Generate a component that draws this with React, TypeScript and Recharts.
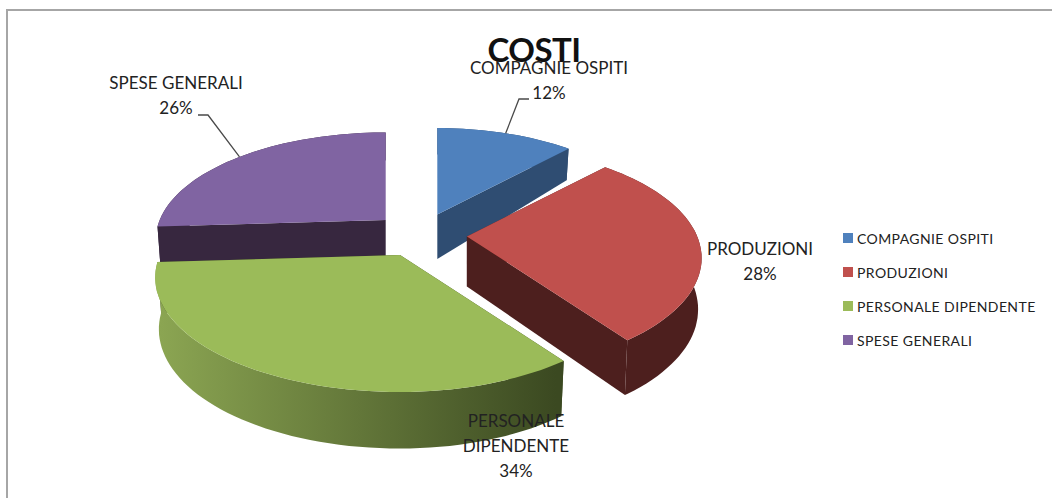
import { Legend, Pie, PieChart, Cell } from "recharts";

const CATEGORIES = ["COMPAGNIE OSPITI", "PRODUZIONI", "PERSONALE DIPENDENTE", "SPESE GENERALI"];
const VALUES = [12, 28, 34, 26];
const TOP_COLORS = ["#4f81bd", "#c0504d", "#9bbb59", "#8064a2"];
const CUT_COLORS = ["#2f4d72", "#4d1f1e", "#3c4a22", "#37273f"];
const RIM_FROM = ["#2f4d72", "#4d1f1e", "#8ba552", "#37273f"];
const RIM_TO = ["#2f4d72", "#4d1f1e", "#3b4921", "#37273f"];

const data = CATEGORIES.map((name, i) => ({ name, value: VALUES[i] }));

const FONT = "Lato, 'Open Sans', sans-serif";
const RADIUS = 230;
const TILT = 0.47; // y squash of the pie plane
const PERSPECTIVE = 0.193;
const EXPLODE = 47;
const BOTTOM_SHRINK = 0.985;
const LEFT_STRETCH = 1.025; // the original's camera sits a bit right of centre

// where each data label sits, [centre x, first baseline], and the leader elbow if any
const LABEL_LINES = [["COMPAGNIE OSPITI"], ["PRODUZIONI"], ["PERSONALE", "DIPENDENTE"], ["SPESE GENERALI"]];
const LABEL_AT = [
  [549, 74],
  [760, 255],
  [516, 427],
  [176, 89],
];
const LEADERS: (number[][] | null)[] = [
  [[519, 99], [529, 99]],
  null,
  null,
  [[208, 115], [198, 115]],
];

const rad = (d: number) => (d * Math.PI) / 180;

// theta: degrees clockwise from the top of the pie, mid: the slice's explode direction
function project(cx: number, cy: number, theta: number, r: number, mid: number, low = false) {
  const ox = EXPLODE * Math.sin(rad(mid));
  const oy = -EXPLODE * Math.cos(rad(mid));
  const lx = r * Math.sin(rad(theta)) * (Math.sin(rad(theta)) < 0 ? LEFT_STRETCH : 1);
  const ly = -r * Math.cos(rad(theta));
  const forward = (ly + (oy < 0 ? 1.6 * oy : 0.5 * oy)) / RADIUS;
  const s = 1 / (1 - PERSPECTIVE * forward);
  const k = low ? BOTTOM_SHRINK : 1;
  const depth = forward >= 0 ? 50 + 6 * forward : 50 + 18 * forward;
  return {
    x: cx + ox + lx * s * k,
    y: cy + oy * TILT + ly * TILT * s + (low ? depth : 0),
  };
}

const path = (pts: { x: number; y: number }[]) =>
  "M" + pts.map((p) => `${p.x.toFixed(1)},${p.y.toFixed(1)}`).join("L") + "Z";

function Slice3D(props: any) {
  const { cx, cy, startAngle, endAngle, outerRadius, name } = props;
  const i = CATEGORIES.indexOf(name);
  const from = 90 - startAngle;
  const to = 90 - endAngle;
  const mid = (from + to) / 2;
  const arc: number[] = [];
  for (let a = from; a < to; a += 2) arc.push(a);
  arc.push(to);

  const apex = project(cx, cy, 0, 0, mid);
  const apexLow = project(cx, cy, 0, 0, mid, true);
  const top = arc.map((a) => project(cx, cy, a, outerRadius, mid));
  const low = arc.map((a) => project(cx, cy, a, outerRadius, mid, true));
  const rim = [...top, ...low.slice().reverse()];
  const gid = `rim-${i}`;

  return (
    <g>
      <defs>
        <linearGradient id={gid} gradientUnits="userSpaceOnUse" x1={160} x2={556} y1={0} y2={0}>
          <stop offset="0%" stopColor={RIM_FROM[i]} />
          <stop offset="100%" stopColor={RIM_TO[i]} />
        </linearGradient>
      </defs>
      <path d={path([apex, top[0], low[0], apexLow])} fill={CUT_COLORS[i]} />
      <path d={path([apex, top[top.length - 1], low[low.length - 1], apexLow])} fill={CUT_COLORS[i]} />
      <path d={path(rim)} fill={`url(#${gid})`} />
      <path d={path([apex, ...top])} fill={TOP_COLORS[i]} />
    </g>
  );
}

// purple sits behind the green slice, so it goes into a first pass
const backSlice = (props: any) => (props.name === CATEGORIES[3] ? <Slice3D {...props} /> : <g />);
const frontSlice = (props: any) => (props.name === CATEGORIES[3] ? <g /> : <Slice3D {...props} />);

function DataLabel(props: any) {
  const { name, percent, cx, cy, outerRadius, startAngle, endAngle } = props;
  const i = CATEGORIES.indexOf(name);
  const [x, y] = LABEL_AT[i];
  const lines = [...LABEL_LINES[i], `${Math.round(percent * 100)}%`];
  const leader = LEADERS[i];
  const mid = 90 - (startAngle + endAngle) / 2;
  const foot = project(cx, cy, mid, outerRadius, mid);
  return (
    <g>
      {leader && (
        <polyline
          points={[[foot.x, foot.y], ...leader].map((p) => p.join(",")).join(" ")}
          fill="none"
          stroke="#4a4a4a"
          strokeWidth={1.3}
        />
      )}
      {lines.map((t, n) => (
        <text key={t} x={x} y={y + n * 25} textAnchor="middle" fontFamily={FONT} fontSize={17} fill="#222">
          {t}
        </text>
      ))}
    </g>
  );
}

function LegendList({ payload }: any) {
  const items = (payload ?? []).filter((p: any) => p.type !== "none");
  return (
    <div style={{ fontFamily: FONT, fontSize: 14, letterSpacing: 0.4, color: "#222" }}>
      {items.map((p: any) => (
        <div key={p.value} style={{ display: "flex", alignItems: "center", height: 34 }}>
          <span style={{ width: 10, height: 10, marginRight: 4, background: p.color, flexShrink: 0 }} />
          <span style={{ whiteSpace: "nowrap" }}>{p.value}</span>
        </div>
      ))}
    </div>
  );
}

export default function App() {
  return (
    <div style={{ position: "fixed", left: 0, top: 0, width: 1052, height: 498, background: "#fff", overflow: "hidden" }}>
      <div
        style={{
          position: "absolute",
          left: 6,
          top: 9,
          width: 1100,
          height: 520,
          border: "2px solid #a6a6a6",
          boxSizing: "border-box",
        }}
      />
      <PieChart
        width={1052}
        height={498}
        margin={{ top: 0, right: 0, bottom: 0, left: 0 }}
        style={{ position: "absolute", left: 0, top: 0 }}
      >
        <text x={534} y={62} textAnchor="middle" fontFamily={FONT} fontWeight={700} fontSize={33} letterSpacing={-0.5} fill="#111">
          COSTI
        </text>
        <Pie
          data={data}
          dataKey="value"
          nameKey="name"
          cx={420}
          cy={235}
          outerRadius={RADIUS}
          startAngle={90}
          endAngle={-270}
          stroke="none"
          shape={backSlice}
          legendType="none"
          isAnimationActive={false}
        />
        <Pie
          data={data}
          dataKey="value"
          nameKey="name"
          cx={420}
          cy={235}
          outerRadius={RADIUS}
          startAngle={90}
          endAngle={-270}
          stroke="none"
          shape={frontSlice}
          label={DataLabel}
          labelLine={false}
          legendType="square"
          isAnimationActive={false}
        >
          {CATEGORIES.map((c, i) => (
            <Cell key={c} fill={TOP_COLORS[i]} />
          ))}
        </Pie>
        <Legend
          layout="vertical"
          align="right"
          verticalAlign="top"
          itemSorter={null}
          content={<LegendList />}
          wrapperStyle={{ position: "absolute", left: 843, top: 221, width: 205 }}
        />
      </PieChart>
    </div>
  );
}
